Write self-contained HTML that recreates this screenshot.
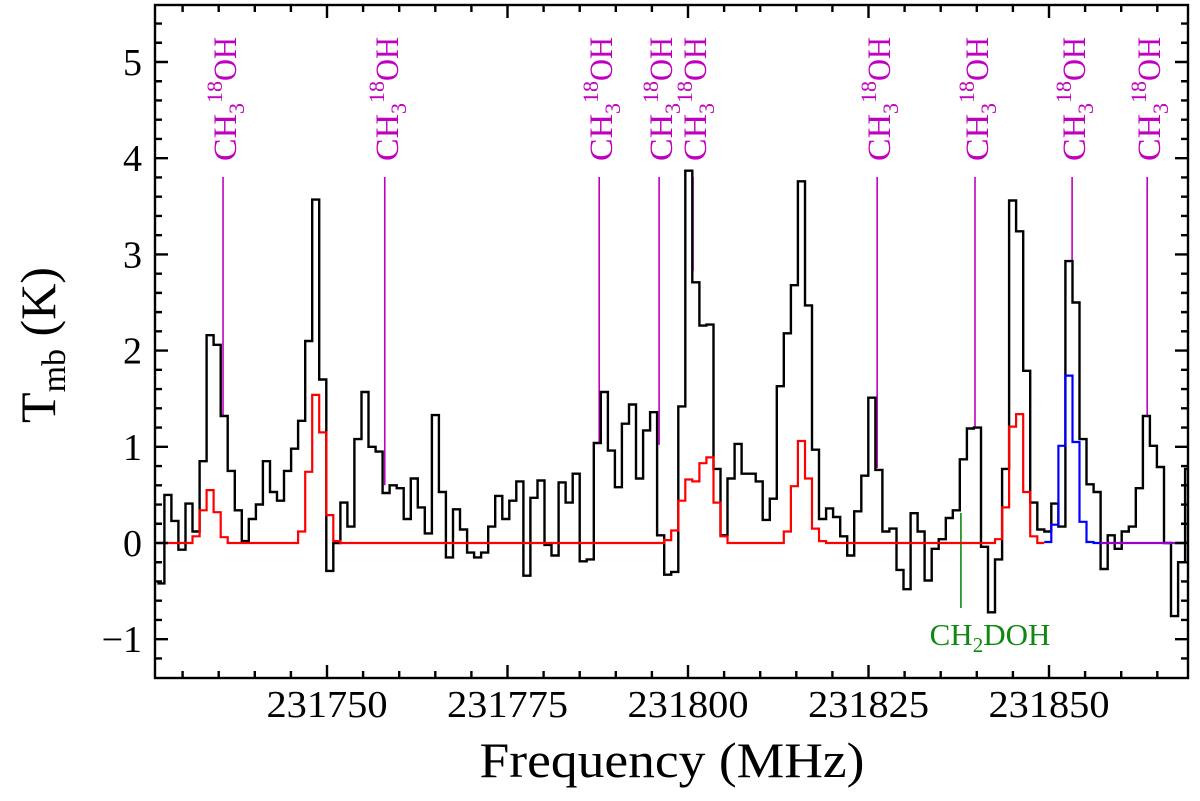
<!DOCTYPE html>
<html><head><meta charset="utf-8"><style>
html,body{margin:0;padding:0;background:#fff}
svg{display:block;font-family:"Liberation Serif",serif}
</style></head><body>
<svg id="chart" width="1200" height="801" viewBox="0 0 1200 801" xmlns="http://www.w3.org/2000/svg">
<g id="plot"></g>
</svg>
<script>
const obsValues=[-0.42,0.50,0.23,-0.07,0.41,0.12,0.85,2.16,2.06,1.32,0.75,0.34,0.02,0.25,0.40,0.85,0.53,0.44,0.75,0.98,1.27,2.10,3.57,1.70,-0.29,0.0,0.42,0.17,1.08,1.57,1.0,0.95,0.52,0.60,0.57,0.25,0.67,0.37,0.10,1.33,0.53,-0.15,0.35,0.14,-0.10,-0.15,-0.10,0.17,0.49,0.25,
0.44,0.64,-0.34,0.47,0.65,-0.02,-0.13,0.63,0.42,0.72,-0.19,-0.17,1.04,1.57,0.96,0.58,1.24,1.44,0.67,1.17,1.36,0.08,-0.33,-0.30,1.42,3.87,2.71,2.26,2.27,0.77,0.08,0.67,1.03,0.72,0.72,0.64,0.24,0.46,1.63,2.18,2.68,3.76,2.47,0.97,0.25,0.36,0.27,0.07,-0.13,0.33,
0.70,1.51,0.76,0.12,0.15,-0.28,-0.48,0.31,0.12,-0.39,-0.06,0.04,0.26,0.34,0.87,1.19,1.20,-0.04,-0.72,-0.17,0.77,3.56,3.24,1.79,0.42,0.14,0.12,0.41,0.17,2.93,2.50,1.08,0.61,0.53,-0.27,0.08,-0.06,0.12,0.17,0.57,1.32,1.01,0.79,0.0,-0.76,-0.20,0.77];
const chanStart=231726.5;
const chanWidth=0.975;
const redChans=[5,6,7,8,9,20,21,22,23,24,25,71,72,73,74,75,76,77,78,79,80,89,90,91,92,93,94,119,120,121,122,123,124];
const redValues=[0.07,0.34,0.55,0.32,0.06,0.12,0.74,1.54,1.15,0.29,0.02,0.0,0.03,0.13,0.44,0.66,0.64,0.83,0.89,0.42,0.07,0.12,0.59,1.06,0.67,0.15,0.02,0.04,0.37,1.21,1.34,0.53,0.07];
const blueChans=[126,127,128,129,130,131,132,133];
const blueValues=[0.01,0.19,1.01,1.74,1.05,0.22,0.01,0.0];
const lineFreqs=[231735.6,231758.0,231787.7,231796.0,231800.7,231826.2,231839.75,231853.2,231863.6];
const lineEnds=[1.32,0.60,1.05,1.02,2.83,0.78,1.20,2.93,1.32];
const xTicks=[231750,231775,231800,231825,231850];
const yTicks=[-1,0,1,2,3,4,5];
const ch2dohFreq=231837.8;

const L=155,R=1188,T=5,B=678;
const fx=f=>688+(f-231800)*7.22;
const fy=v=>543-v*96.2;
const NS="http://www.w3.org/2000/svg";
const g=document.getElementById('plot');
function mk(tag,attrs,parent){const e=document.createElementNS(NS,tag);for(const k in attrs)e.setAttribute(k,attrs[k]);(parent||g).appendChild(e);return e;}

const defs=mk('defs',{});
const cp=mk('clipPath',{id:'clip'},defs);mk('rect',{x:L,y:T,width:R-L,height:B-T},cp);
const data=mk('g',{'clip-path':'url(#clip)'});

function stepPath(vals,startIdx){
  let d='';
  vals.forEach((v,i)=>{const k=startIdx+i;const x0=fx(chanStart+k*chanWidth),x1=fx(chanStart+(k+1)*chanWidth),y=fy(v);
    d+=(i===0?'M':'L')+x0.toFixed(1)+','+y.toFixed(1)+'L'+x1.toFixed(1)+','+y.toFixed(1);});
  return d;
}
const redFull=[];for(let k=0;k<=125;k++){const j=redChans.indexOf(k);redFull.push(j>=0?redValues[j]:0);}
const purple=[];for(let k=134;k<obsValues.length;k++)purple.push(0);

lineFreqs.forEach((f,i)=>{
  const x=fx(f);
  const ln=mk('line',{x1:x,x2:x,y1:177,y2:fy(lineEnds[i]),stroke:'#c000c0','stroke-width':1.6},data);
  
  
});
const gl=mk('line',{x1:fx(ch2dohFreq),x2:fx(ch2dohFreq),y1:513,y2:608,stroke:'#118811','stroke-width':1.6},data);



const obs=mk('path',{d:stepPath(obsValues,0),fill:'none',stroke:'#000','stroke-width':2.4},data);


const red=mk('path',{d:stepPath(redFull,0),fill:'none',stroke:'#ff0000','stroke-width':2.2},data);


const blue=mk('path',{d:stepPath(blueValues,126),fill:'none',stroke:'#0000ff','stroke-width':2.2},data);


const pur=mk('path',{d:stepPath(purple,134),fill:'none',stroke:'#9900cc','stroke-width':2.2},data);



lineFreqs.forEach((f,i)=>{
  const x=fx(f)+13;
  const t=mk('text',{x:0,y:0,transform:`translate(${x},161) rotate(-90)`,fill:'#c000c0','font-size':33});
  
  
  t.innerHTML='<tspan textLength="47" lengthAdjust="spacingAndGlyphs">CH</tspan><tspan font-size="22" dy="8">3</tspan><tspan font-size="22" dy="-22" textLength="22" lengthAdjust="spacingAndGlyphs">18</tspan><tspan dy="14" textLength="44" lengthAdjust="spacingAndGlyphs">OH</tspan>';
});
const gt=mk('text',{x:990,y:645,fill:'#118811','font-size':31,'text-anchor':'middle'});


gt.innerHTML='CH<tspan font-size="21" dy="7">2</tspan><tspan dy="-7">DOH</tspan>';

const fr=mk('rect',{x:L,y:T,width:R-L,height:B-T,fill:'none',stroke:'#000','stroke-width':2.4});


let td='';
for(let f=231730;f<=231865;f+=5){const x=fx(f);const len=(f%25===0)?13:7;td+=`M${x},${B}v${-len}M${x},${T}v${len}`;}
for(let v=-1.2;v<=5.6;v+=0.2){const vv=Math.round(v*10)/10;const y=fy(vv);const len=(Math.abs(vv-Math.round(vv))<1e-6)?13:7;td+=`M${L},${y}h${len}M${R},${y}h${-len}`;}
const tk=mk('path',{d:td,stroke:'#000','stroke-width':2.4,fill:'none'});


xTicks.forEach(f=>{const t=mk('text',{x:fx(f),y:717,'font-size':38,'text-anchor':'middle',textLength:121,lengthAdjust:'spacingAndGlyphs'});t.textContent=f;
  
  });
yTicks.forEach(v=>{const t=mk('text',{x:142,y:fy(v)+13,'font-size':38,'text-anchor':'end'});t.textContent=v<0?'\u2212'+(-v):v;
  
  });
const xl=mk('text',{x:672,y:777,'font-size':50,'text-anchor':'middle',textLength:385,lengthAdjust:'spacingAndGlyphs'});xl.textContent='Frequency (MHz)';


const yl=mk('text',{x:0,y:0,transform:'translate(55,345) rotate(-90)','font-size':50,'text-anchor':'middle'});


yl.innerHTML='T<tspan font-size="34" dy="10">mb</tspan><tspan dy="-10"> (K)</tspan>';
</script>
</body></html>
